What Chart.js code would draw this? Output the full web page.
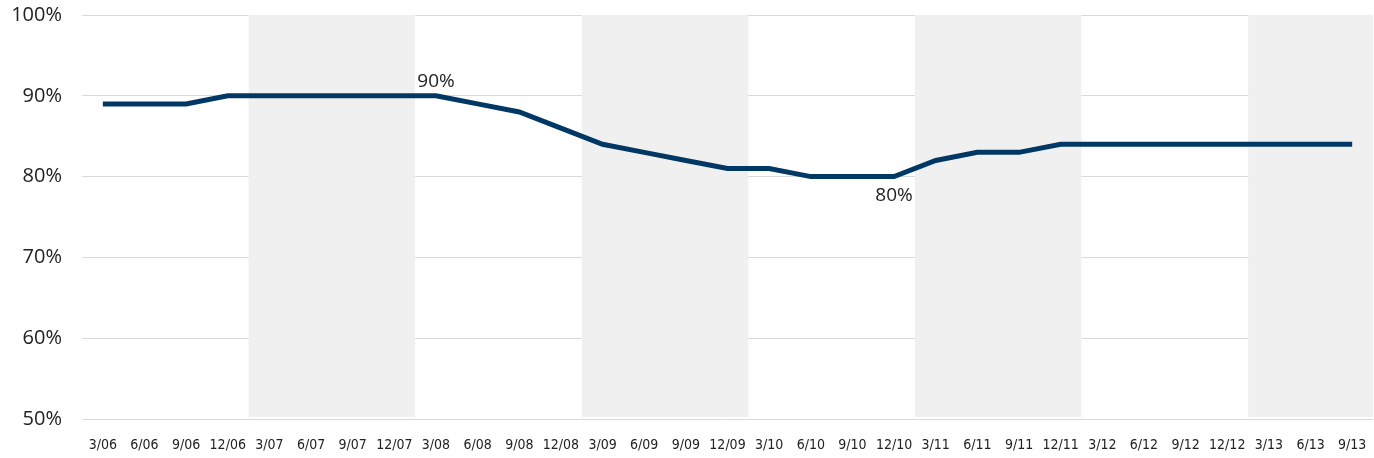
<!DOCTYPE html>
<html>
<head>
<meta charset="utf-8">
<script src="https://cdn.jsdelivr.net/npm/chart.js@4"></script>
<style>
  html, body { margin: 0; padding: 0; background: #fff; }
  #wrap { width: 1374px; height: 458px; }
</style>
</head>
<body>
<div id="wrap"><canvas id="chart"></canvas></div>
<script>
const quarters = ["3/06", "6/06", "9/06", "12/06", "3/07", "6/07", "9/07", "12/07",
  "3/08", "6/08", "9/08", "12/08", "3/09", "6/09", "9/09", "12/09",
  "3/10", "6/10", "9/10", "12/10", "3/11", "6/11", "9/11", "12/11",
  "3/12", "6/12", "9/12", "12/12", "3/13", "6/13", "9/13"];
const rate = [89, 89, 89, 90, 90, 90, 90, 90,
  90, 89, 88, 86, 84, 83, 82, 81,
  81, 80, 80, 80, 82, 83, 83, 84,
  84, 84, 84, 84, 84, 84, 84];
// shaded years: first and last quarter index
const shadedYears = [[4, 7], [12, 15], [20, 23], [28, 30]];
const callouts = [{ idx: 8, text: "90%", pos: "above" }, { idx: 19, text: "80%", pos: "below" }];

const bandPlugin = {
  id: "bands",
  beforeDatasetsDraw(chart) {
    const { ctx, chartArea, scales } = chart;
    const x = scales.x, y = scales.y;
    const half = (x.getPixelForValue(1) - x.getPixelForValue(0)) / 2;
    ctx.save();
    ctx.fillStyle = "#f0f0f0";
    shadedYears.forEach(([a, b]) => {
      const left = x.getPixelForValue(a) - half;
      const right = Math.min(x.getPixelForValue(b) + half, chartArea.right);
      ctx.fillRect(left, chartArea.top, right - left, y.getPixelForValue(50) - 2 - chartArea.top);
    });
    ctx.restore();
  },
  afterDatasetsDraw(chart) {
    const { ctx, scales } = chart;
    ctx.save();
    ctx.font = "19px 'Open Sans', sans-serif";
    ctx.fillStyle = "#222";
    ctx.textAlign = "center";
    callouts.forEach(c => {
      const px = scales.x.getPixelForValue(c.idx);
      const py = scales.y.getPixelForValue(rate[c.idx]);
      if (c.pos === "above") {
        ctx.textBaseline = "bottom";
        ctx.fillText(c.text, px, py - 5);
      } else {
        ctx.textBaseline = "top";
        ctx.fillText(c.text, px, py + 9);
      }
    });
    ctx.restore();
  }
};

new Chart(document.getElementById("chart"), {
  type: "line",
  data: {
    labels: quarters,
    datasets: [{
      data: rate,
      borderColor: "#003865",
      borderWidth: 5,
      pointRadius: 0,
      tension: 0,
      fill: false
    }]
  },
  options: {
    responsive: true,
    maintainAspectRatio: false,
    animation: false,
    layout: { padding: { top: 15, right: 1, left: 0, bottom: 0 } },
    plugins: { legend: { display: false }, tooltip: { enabled: false } },
    scales: {
      x: {
        offset: true,
        grid: { display: false },
        border: { display: false },
        afterFit(scale) {
          scale.height = 39;
          scale.paddingLeft = 0;
          scale.paddingRight = 0;
        },
        ticks: {
          color: "#222",
          font: { family: "'Liberation Sans Narrow', 'DejaVu Sans Condensed', sans-serif", size: 14 },
          maxRotation: 0,
          autoSkip: false,
          padding: 10
        }
      },
      y: {
        min: 50,
        max: 100,
        grid: { color: "#d9d9d9", lineWidth: 1, drawTicks: false },
        border: { display: false },
        afterFit(scale) {
          scale.width = 82;
          scale.paddingTop = 0;
          scale.paddingBottom = 0;
        },
        ticks: {
          stepSize: 10,
          color: "#222",
          padding: 20,
          font: { family: "'Open Sans', sans-serif", size: 20 },
          callback: v => v + "%"
        }
      }
    }
  },
  plugins: [bandPlugin]
});
</script>
</body>
</html>
